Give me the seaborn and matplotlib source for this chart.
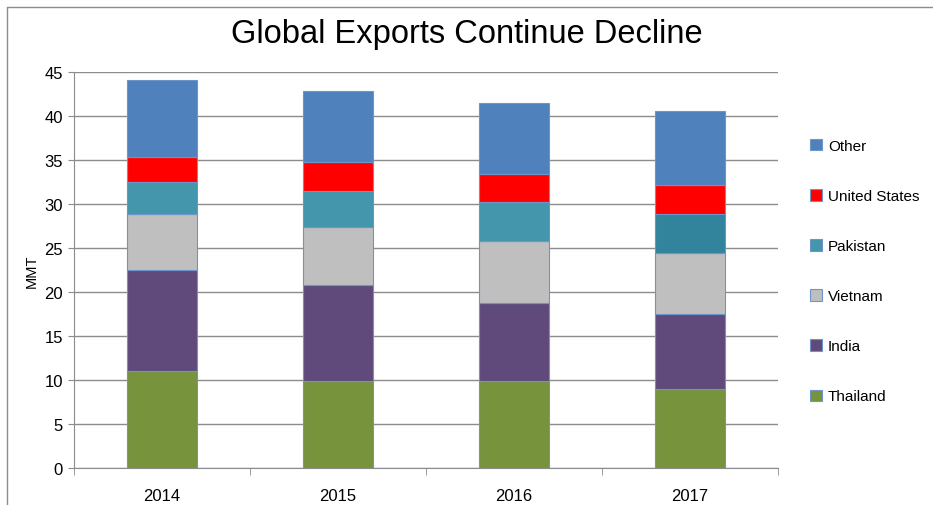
import numpy as np
import pandas as pd
import matplotlib.pyplot as plt
import seaborn as sns
from matplotlib.patches import Patch
from matplotlib.lines import Line2D

sns.set_style("white")
plt.rcParams['font.family'] = ['Liberation Sans', 'DejaVu Sans']

years = ["2014", "2015", "2016", "2017"]
series = ["Thailand", "India", "Vietnam", "Pakistan", "United States", "Other"]
thailand = [11.0, 9.85, 9.85, 9.0]
india = [11.5, 10.95, 8.95, 8.5]
vietnam = [6.3, 6.6, 7.0, 6.9]
pakistan = [3.7, 4.1, 4.4, 4.4]
united_states = [2.8, 3.3, 3.2, 3.4]
other = [8.8, 8.0, 8.1, 8.4]
values = [thailand, india, vietnam, pakistan, united_states, other]

colors = {
    "Thailand": ["#77933C"] * 4,
    "India": ["#604A7B"] * 4,
    "Vietnam": ["#BFBFBF"] * 4,
    "Pakistan": ["#4396AC", "#4396AC", "#4396AC", "#31849B"],
    "United States": ["#FF0000"] * 4,
    "Other": ["#4F81BD"] * 4,
}

fig = plt.figure(figsize=(9.33, 5.06), dpi=100)
ax = fig.add_axes([0.0793, 0.073, 0.7546, 0.783])

bottom = np.zeros(len(years))
for name, vals in zip(series, values):
    df = pd.DataFrame({"year": years, "value": vals})
    n_before = len(ax.patches)
    sns.barplot(data=df, x="year", y="value", color=colors[name][0],
                bottom=bottom, width=0.4, ax=ax,
                edgecolor="#6F95C8", linewidth=0.8, saturation=1)
    # per-bar colours (2017 Pakistan is darker)
    for patch, c in zip(ax.patches[n_before:], colors[name]):
        patch.set_facecolor(c)
    bottom = bottom + np.array(vals)

ax.set_xlim(-0.5, 3.5)
ax.set_ylim(0, 45)
ax.set_yticks(range(0, 46, 5))
ax.yaxis.grid(True, color="#8C8C8C", linewidth=1.0)
ax.set_axisbelow(True)
for s in ["top", "right"]:
    ax.spines[s].set_visible(False)
ax.spines["left"].set_color("#8C8C8C")
ax.spines["bottom"].set_color("#8C8C8C")
ax.tick_params(axis="y", labelsize=12, length=4, color="#8C8C8C", left=True, pad=4,
               labelcolor="black")
ax.tick_params(axis="x", which="major", labelsize=12, length=0, pad=14, labelcolor="black")
ax.set_xticks([-0.5, 0.5, 1.5, 2.5, 3.5], minor=True)
ax.tick_params(axis="x", which="minor", length=5, color="#8C8C8C", bottom=True)
ax.set_xlabel("")
ax.set_ylabel("MMT", fontsize=10.5, labelpad=4, color="black")

fig.suptitle("Global Exports Continue Decline", fontsize=23.5, x=0.5, y=0.932,
             va="center", color="black")

handles = [Patch(facecolor=colors[n][0], edgecolor="#6F95C8", linewidth=0.8)
           for n in series][::-1]
fig.legend(handles, series[::-1], loc="upper left", bbox_to_anchor=(0.862, 0.735),
           frameon=False, fontsize=11, labelspacing=2.36, handlelength=0.75,
           handleheight=0.75, handletextpad=0.4, borderaxespad=0, labelcolor="black")

# chart frame edges
fig.add_artist(Line2D([0.008, 1.0], [0.984, 0.984], color="#8C8C8C", linewidth=1.0))
fig.add_artist(Line2D([0.008, 0.008], [0.0, 0.984], color="#8C8C8C", linewidth=1.0))

fig.savefig("out.png", dpi=100)
